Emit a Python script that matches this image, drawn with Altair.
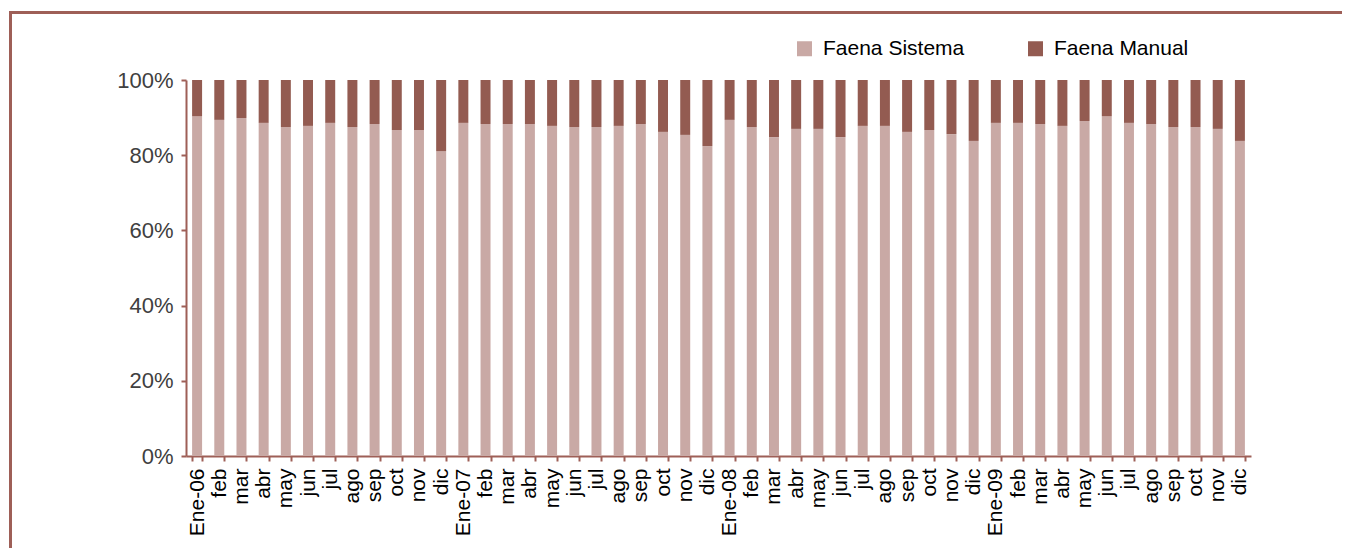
import altair as alt
import pandas as pd

labels = ["Ene-06", "feb", "mar", "abr", "may", "jun", "jul", "ago", "sep", "oct", "nov", "dic",
          "Ene-07", "feb", "mar", "abr", "may", "jun", "jul", "ago", "sep", "oct", "nov", "dic",
          "Ene-08", "feb", "mar", "abr", "may", "jun", "jul", "ago", "sep", "oct", "nov", "dic",
          "Ene-09", "feb", "mar", "abr", "may", "jun", "jul", "ago", "sep", "oct", "nov", "dic"]

sistema = [90.4, 89.4, 89.9, 88.6, 87.5, 87.8, 88.6, 87.5, 88.3, 86.7, 86.7, 81.1,
           88.6, 88.3, 88.3, 88.3, 87.8, 87.5, 87.5, 87.8, 88.3, 86.2, 85.4, 82.4,
           89.4, 87.5, 84.8, 87.0, 87.0, 84.8, 87.8, 87.8, 86.2, 86.7, 85.6, 83.8,
           88.6, 88.6, 88.3, 87.8, 89.1, 90.4, 88.6, 88.3, 87.5, 87.5, 87.0, 83.8]

manual = [9.6, 10.6, 10.1, 11.4, 12.5, 12.2, 11.4, 12.5, 11.7, 13.3, 13.3, 18.9,
          11.4, 11.7, 11.7, 11.7, 12.2, 12.5, 12.5, 12.2, 11.7, 13.8, 14.6, 17.6,
          10.6, 12.5, 15.2, 13.0, 13.0, 15.2, 12.2, 12.2, 13.8, 13.3, 14.4, 16.2,
          11.4, 11.4, 11.7, 12.2, 10.9, 9.6, 11.4, 11.7, 12.5, 12.5, 13.0, 16.2]

series = ["Faena Sistema", "Faena Manual"]
colors = ["#C9A9A5", "#935B51"]
frame_color = "#9E5F57"

rows = []
for i, lab in enumerate(labels):
    key = f"{lab}|{i}"
    rows.append({"key": key, "serie": series[0], "value": sistema[i], "ord": 0})
    rows.append({"key": key, "serie": series[1], "value": manual[i], "ord": 1})
df = pd.DataFrame(rows)
keys = [f"{lab}|{i}" for i, lab in enumerate(labels)]

W, H = 1065, 376
PAD_L, PAD_T = 178, 72
TOTAL_W, TOTAL_H = 1334, 540

bars = alt.Chart(df).mark_bar().encode(
    x=alt.X("key:N", sort=keys, title=None,
            scale=alt.Scale(paddingInner=0.55, paddingOuter=0.275),
            axis=alt.Axis(labelExpr="split(datum.label, '|')[0]", labelAngle=270,
                          labelFontSize=21, labelColor="#000000", tickBand="extent",
                          labelPadding=7, tickSize=5)),
    y=alt.Y("value:Q", stack="normalize", title=None,
            scale=alt.Scale(domain=[0, 1], nice=False),
            axis=alt.Axis(format="%", values=[0, 0.2, 0.4, 0.6, 0.8, 1.0],
                          labelFontSize=22, labelColor="#404040", tickSize=5,
                          labelPadding=8)),
    color=alt.Color("serie:N", scale=alt.Scale(domain=series, range=colors),
                    legend=alt.Legend(orient="none", legendX=608, legendY=-42,
                                      direction="horizontal", title=None,
                                      symbolType="square", symbolSize=225,
                                      symbolStrokeWidth=0, labelFontSize=21,
                                      labelColor="#000000", columnPadding=60,
                                      labelOffset=8, padding=0)),
    order=alt.Order("ord:Q"),
)

left_line = alt.Chart(df).mark_rule(color=frame_color, strokeWidth=3).encode(
    x=alt.value(-175.5), y=alt.value(-68), y2=alt.value(TOTAL_H - PAD_T)
)
top_line = alt.Chart(df).mark_rule(color=frame_color, strokeWidth=3).encode(
    x=alt.value(-177), x2=alt.value(TOTAL_W - PAD_L), y=alt.value(-67.5)
)

chart = alt.layer(bars, left_line, top_line).properties(
    width=W, height=H,
    autosize=alt.AutoSizeParams(type="none"),
    padding={"left": PAD_L, "top": PAD_T, "right": TOTAL_W - PAD_L - W, "bottom": TOTAL_H - PAD_T - H},
).configure_view(stroke=None).configure_axis(
    grid=False, domainColor=frame_color, domainWidth=2, tickColor=frame_color,
    tickWidth=2, labelFont="Liberation Sans"
).configure_legend(labelFont="Liberation Sans")

chart.save("out.html", embed_options={"renderer": "svg", "actions": False})
